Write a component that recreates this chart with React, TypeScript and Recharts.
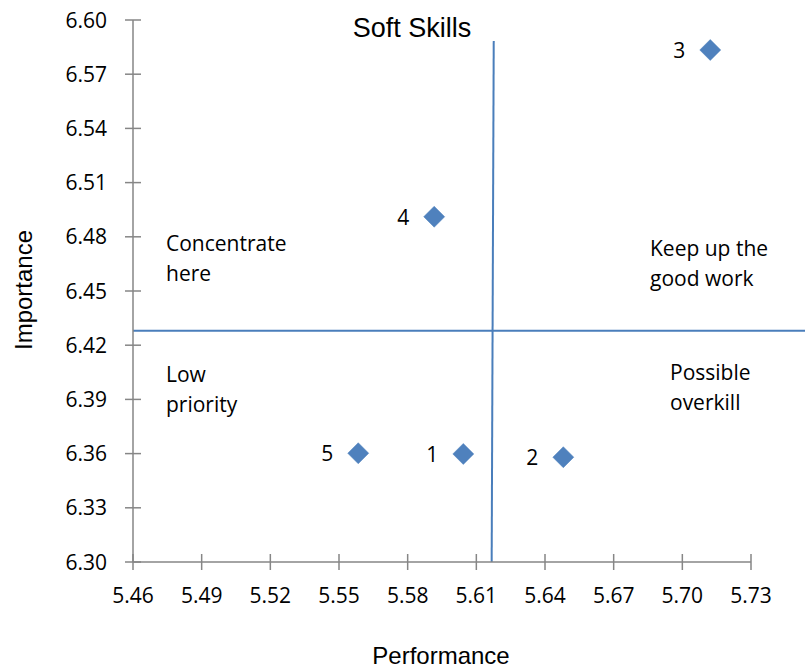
import { ScatterChart, Scatter, XAxis, YAxis, ReferenceLine } from "recharts";

const itemIds = ["1", "2", "3", "4", "5"];
const performance = [5.6043, 5.648, 5.7122, 5.5916, 5.5584];
const importance = [6.3598, 6.358, 6.5834, 6.4911, 6.3602];

const xTicks = [5.46, 5.49, 5.52, 5.55, 5.58, 5.61, 5.64, 5.67, 5.7, 5.73];
const yTicks = [6.3, 6.33, 6.36, 6.39, 6.42, 6.45, 6.48, 6.51, 6.54, 6.57, 6.6];

// quadrant divider lines (drawn shapes in the original)
const hDivider = [
  { x: 5.46, y: 6.428 },
  { x: 5.7536, y: 6.428 },
];
const vDivider = [
  { x: 5.6167, y: 6.3 },
  { x: 5.6176, y: 6.5884 },
];

const data = itemIds.map((id, i) => ({
  name: id,
  x: performance[i],
  y: importance[i],
}));

const AXIS = "#868686";
const BLUE = "#4F81BD";
const LINE = "#4A7EBB";
const bodyFont = "'Open Sans', sans-serif";
const arial = "'Liberation Sans', Arial, sans-serif";

const YTick = (props: any) => {
  const { x, y, payload } = props;
  return (
    <g>
      <line x1={x - 8} x2={x + 8} y1={y} y2={y} stroke={AXIS} strokeWidth={1.5} />
      <text x={x - 26} y={y + 7.5} textAnchor="end" fontSize={21} fontFamily={bodyFont} fill="#000">
        {Number(payload.value).toFixed(2)}
      </text>
    </g>
  );
};

const XTick = (props: any) => {
  const { x, y, payload } = props;
  return (
    <g>
      <line x1={x} x2={x} y1={y - 8} y2={y + 8} stroke={AXIS} strokeWidth={1.5} />
      <text x={x} y={y + 41} textAnchor="middle" fontSize={21} fontFamily={bodyFont} fill="#000">
        {Number(payload.value).toFixed(2)}
      </text>
    </g>
  );
};

const Diamond = (props: any) => {
  const { cx, cy, payload } = props;
  const r = 10.5;
  return (
    <g>
      <path
        d={`M${cx},${cy - r}L${cx + r},${cy}L${cx},${cy + r}L${cx - r},${cy}Z`}
        fill={BLUE}
        stroke={BLUE}
        strokeWidth={0.5}
      />
      <text x={cx - 31} y={cy + 8} textAnchor="middle" fontSize={21} fontFamily={bodyFont} fill="#000">
        {payload.name}
      </text>
    </g>
  );
};

const notes = [
  { x: 166, y: 251, lines: ["Concentrate", "here"] },
  { x: 650, y: 256, lines: ["Keep up the", "good work"] },
  { x: 166, y: 382, lines: ["Low", "priority"] },
  { x: 670, y: 380, lines: ["Possible", "overkill"] },
];

export default function App() {
  return (
    <div style={{ position: "absolute", left: 0, top: 0, width: 805, height: 670, background: "#fff" }}>
      <ScatterChart width={805} height={670} margin={{ top: 20, right: 54, bottom: 48, left: 0 }}>
        <XAxis
          type="number"
          dataKey="x"
          domain={[5.46, 5.73]}
          ticks={xTicks}
          allowDataOverflow
          height={60}
          tickSize={0}
          tickMargin={0}
          tickLine={false}
          axisLine={{ stroke: AXIS, strokeWidth: 1.5 }}
          tick={<XTick />}
        />
        <YAxis
          type="number"
          dataKey="y"
          domain={[6.3, 6.6]}
          ticks={yTicks}
          allowDataOverflow
          width={133}
          tickSize={0}
          tickMargin={0}
          tickLine={false}
          axisLine={{ stroke: AXIS, strokeWidth: 1.5 }}
          tick={<YTick />}
        />
        <ReferenceLine segment={hDivider} stroke={LINE} strokeWidth={2} ifOverflow="visible" />
        <ReferenceLine segment={vDivider} stroke={LINE} strokeWidth={2} ifOverflow="visible" />
        <Scatter data={data} shape={<Diamond />} isAnimationActive={false} />
      </ScatterChart>
      <svg
        width={805}
        height={670}
        style={{ position: "absolute", left: 0, top: 0, pointerEvents: "none" }}
      >
        <text x={412} y={37} textAnchor="middle" fontSize={27} fontFamily={arial} fill="#000">
          Soft Skills
        </text>
        <text x={441} y={664} textAnchor="middle" fontSize={24} fontFamily={arial} fill="#000">
          Performance
        </text>
        <text
          x={32}
          y={290}
          transform="rotate(-90 32 290)"
          textAnchor="middle"
          fontSize={24}
          fontFamily={arial}
          fill="#000"
        >
          Importance
        </text>
        {notes.map((n, i) => (
          <text key={i} x={n.x} y={n.y} fontSize={21} fontFamily={bodyFont} fill="#000">
            {n.lines.map((l, j) => (
              <tspan key={j} x={n.x} dy={j === 0 ? 0 : 30}>
                {l}
              </tspan>
            ))}
          </text>
        ))}
      </svg>
    </div>
  );
}
